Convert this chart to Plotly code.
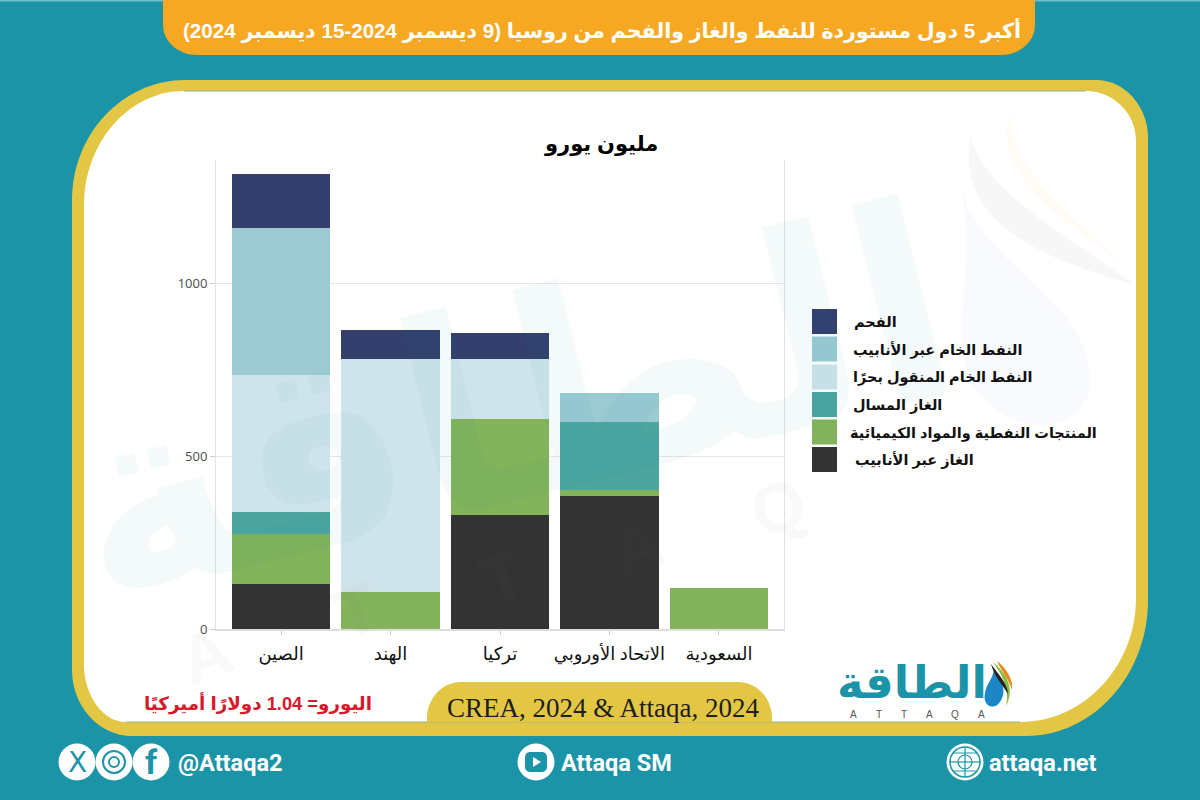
import plotly.graph_objects as go

W, H = 1200, 800
countries = ["الصين", "الهند", "تركيا", "الاتحاد الأوروبي", "السعودية"]
gas_pipeline = [130, 0, 330, 385, 0]
products = [145, 107, 279, 18, 119]
lng = [65, 0, 0, 197, 0]
seaborne_crude = [396, 674, 172, 0, 0]
pipeline_crude = [427, 0, 0, 84, 0]
coal = [154, 86, 77, 0, 0]
series_names = ["الغاز عبر الأنابيب", "المنتجات النفطية والمواد الكيميائية", "الغاز المسال",
                "النفط الخام المنقول بحرًا", "النفط الخام عبر الأنابيب", "الفحم"]
series_values = [gas_pipeline, products, lng, seaborne_crude, pipeline_crude, coal]
series_colors = ["#333333", "#83B35B", "#4CA59F", "#CFE4EA", "#9CCAD2", "#343F6D"]
y_ticks = [0, 500, 1000]

TEAL = "#1B94A8"
GOLD = "#E3C744"
ORANGE = "#F7A823"
AR = "'Liberation Sans', 'Noto Sans', 'DejaVu Sans', sans-serif"


def px(x):
    return x / W


def py(y):
    return 1 - y / H


def P(cmds):
    out = []
    for c in cmds:
        op = c[0]
        vals = c[1:]
        pts = []
        for i in range(0, len(vals), 2):
            pts.append(f"{px(vals[i]):.5f},{py(vals[i + 1]):.5f}")
        out.append(op + " ".join(pts))
    return " ".join(out) + " Z"


def corner_card(x0, y0, x1, y1, tl, tr, br, bl):
    k = 0.45
    return P([
        ("M", x0 + tl[0], y0), ("L", x1 - tr[0], y0),
        ("C", x1 - tr[0] * k, y0, x1, y0 + tr[1] * k, x1, y0 + tr[1]),
        ("L", x1, y1 - br[1]),
        ("C", x1, y1 - br[1] * k, x1 - br[0] * k, y1, x1 - br[0], y1),
        ("L", x0 + bl[0], y1),
        ("C", x0 + bl[0] * k, y1, x0, y1 - bl[1] * k, x0, y1 - bl[1]),
        ("L", x0, y0 + tl[1]),
        ("C", x0, y0 + tl[1] * k, x0 + tl[0] * k, y0, x0 + tl[0], y0),
    ])


shapes = []
annots = []


def path(d, fill, layer="below", opacity=1, line=None, lw=0):
    shapes.append(dict(type="path", path=d, xref="paper", yref="paper", fillcolor=fill, layer=layer,
                       opacity=opacity, line=dict(color=line or "rgba(0,0,0,0)", width=lw)))


def circle(cx, cy, r, fill, line=None, lw=0, layer="below", opacity=1):
    shapes.append(dict(type="circle", xref="paper", yref="paper", x0=px(cx - r), x1=px(cx + r),
                       y0=py(cy + r), y1=py(cy - r), fillcolor=fill, layer=layer, opacity=opacity,
                       line=dict(color=line or "rgba(0,0,0,0)", width=lw)))


def rect(x0, y0, x1, y1, fill, layer="below"):
    shapes.append(dict(type="rect", xref="paper", yref="paper", x0=px(x0), x1=px(x1), y0=py(y1), y1=py(y0),
                       fillcolor=fill, layer=layer, line=dict(width=0)))


def seg(x0, y0, x1, y1, color, w=1, layer="below"):
    shapes.append(dict(type="line", xref="paper", yref="paper", x0=px(x0), x1=px(x1), y0=py(y0), y1=py(y1),
                       layer=layer, line=dict(color=color, width=w)))


def text(x, y, s, size, color="#000", family=AR, anchor="center", bold=False, angle=0, opacity=1):
    annots.append(dict(x=px(x), y=py(y), xref="paper", yref="paper", text=f"<b>{s}</b>" if bold else s,
                       showarrow=False, xanchor=anchor, yanchor="middle", textangle=angle, opacity=opacity,
                       font=dict(size=size, color=color, family=family)))


# frame
rect(0, 0, 1200, 1.5, "#6FC0CC")
path(corner_card(163, -2, 1035, 55, (1, 1), (1, 1), (34, 30), (34, 30)), ORANGE)
path(corner_card(72, 80, 1148, 736, (113, 120), (52, 58), (122, 136), (60, 66)), GOLD)
path(corner_card(84, 91, 1136, 722, (100, 114), (50, 50), (116, 124), (42, 58)), "#FFFFFF")
seg(184, 91, 1086, 91, "#8FB98C", 1)
seg(126, 722, 1020, 722, "#8FB98C", 1)
path(corner_card(427, 682, 772, 722, (34, 36), (34, 36), (1, 1), (1, 1)), GOLD)

# faint drop watermark at right
path(P([("M", 970, 135), ("C", 960, 210, 1010, 250, 1135, 285), ("C", 1050, 225, 985, 190, 970, 135)]), "#8C8C8C", opacity=0.07)
path(P([("M", 1010, 112), ("C", 990, 170, 1060, 220, 1125, 265), ("C", 1060, 200, 1010, 170, 1010, 112)]), "#F7A823", opacity=0.04)
path(P([("M", 962, 190), ("C", 985, 270, 1090, 300, 1090, 380), ("C", 1090, 440, 1000, 440, 970, 380),
        ("C", 950, 330, 975, 280, 962, 190)]), "#B9C8E6", opacity=0.09)

# faint word-mark watermark
text(510, 405, "الطاقة", 270, color=TEAL, family=AR, bold=True, angle=-14, opacity=0.045)
for lx, ly, ch in [(205, 655, "A"), (356, 610, "T"), (503, 577, "T"), (636, 547, "A"), (778, 507, "Q")]:
    text(lx, ly, ch, 68, color="#777777", family="'Liberation Sans'", bold=True, angle=-20, opacity=0.04)

# titles
RLM = "\u200f"
text(602, 30, RLM + "أكبر 5 دول مستوردة للنفط والغاز والفحم من روسيا (9 ديسمبر 2024-15 ديسمبر 2024)" + RLM, 20.6, "#FFFFFF", bold=True)
text(601, 144, "مليون يورو", 21, "#000", bold=True)
text(258, 703, "اليورو= 1.04 دولارًا أميركيًا", 18.3, "#D7182A", bold=True)
text(603, 708, "CREA, 2024 &amp; Attaqa, 2024", 27, "#1E1E1E", family="'Liberation Serif', serif")

# legend
legend_rows = [(5, 321.5, 852), (4, 349, 851), (3, 377, 851), (2, 404.5, 851), (1, 432, 848), (0, 459.5, 853)]
for idx, cy, tx in legend_rows:
    rect(812, cy - 12.5, 837, cy + 12.5, series_colors[idx])
    text(tx, cy + (1 if idx else 0), series_names[idx], 14.5, "#111", bold=True, anchor="left")

# logo
text(912, 682, "الطاقة", 45, TEAL, bold=True)
for i, ch in enumerate("ATTAQA"):
    text(853 + i * 25.6, 714, ch, 10, "#555", family="'Liberation Sans'")
path(P([("M", 994, 670), ("C", 1003, 682, 1007, 692, 1000, 702), ("C", 994, 711, 982, 706, 985, 693), ("C", 986, 685, 992, 680, 994, 670)]), "#1C86C6")
path(P([("M", 993, 662), ("C", 1005, 672, 1016, 688, 1006, 706), ("C", 1010, 688, 1002, 675, 993, 662)]), "#8DBF3F")
path(P([("M", 997, 661), ("C", 1006, 668, 1014, 680, 1012, 690), ("C", 1009, 680, 1002, 672, 997, 661)]), "#E88B1F")
path(P([("M", 991, 664), ("C", 998, 674, 1008, 684, 1008, 694), ("C", 1002, 684, 994, 676, 991, 664)]), "#222222")

# footer
for cx in (77, 114, 151, 536, 965):
    circle(cx, 762, 18.5, "#FFFFFF")
text(77, 762, "X", 28, TEAL, family="'DejaVu Sans'")
circle(114, 762, 11, "rgba(0,0,0,0)", TEAL, 2)
circle(114, 762, 5, "rgba(0,0,0,0)", TEAL, 2)
text(151, 762, "f", 34, TEAL, family="'Roboto'", bold=True)
path(corner_card(525, 752, 547, 772, (5, 5), (5, 5), (5, 5), (5, 5)), TEAL)
path(P([("M", 533, 757), ("L", 541, 762), ("L", 533, 767)]), "#FFFFFF")
circle(965, 762, 15, "rgba(0,0,0,0)", TEAL, 1.5)
circle(965, 762, 7, "rgba(0,0,0,0)", TEAL, 1.2)
seg(950, 762, 980, 762, TEAL, 1.2)
seg(965, 747, 965, 777, TEAL, 1.2)
seg(953, 753, 977, 753, TEAL, 1)
seg(953, 771, 977, 771, TEAL, 1)
text(176, 763, "@Attaqa2", 23.5, "#FFFFFF", family="Roboto", bold=True, anchor="left")
text(559, 763, "Attaqa SM", 23.5, "#FFFFFF", family="Roboto", bold=True, anchor="left")
text(987, 763, "attaqa.net", 23.5, "#FFFFFF", family="Roboto", bold=True, anchor="left")

fig = go.Figure()
for name, vals, col in zip(series_names, series_values, series_colors):
    fig.add_bar(x=countries, y=vals, name=name, marker=dict(color=col, line=dict(width=0)), showlegend=False)

fig.update_layout(
    width=W, height=H, autosize=False, margin=dict(l=0, r=0, t=0, b=0, pad=0, autoexpand=False), barmode="stack", bargap=0.1,
    paper_bgcolor=TEAL, plot_bgcolor="rgba(0,0,0,0)", shapes=shapes, annotations=annots,
    showlegend=False,
    xaxis=dict(domain=[px(216), px(784)], range=[-0.594, 4.594], type="category", categoryorder="array",
               categoryarray=countries, showgrid=False, showline=True, linecolor="#DEDEDE", linewidth=1.5,
               ticks="outside", ticklen=4, tickcolor="#CCCCCC", tickwidth=1, ticklabelstandoff=4,
               tickfont=dict(size=18, color="#111", family="'Liberation Serif', " + AR)),
    yaxis=dict(domain=[py(629), py(160)], range=[0, 1359], tickvals=y_ticks, showgrid=True, gridcolor="#E6E6E6",
               gridwidth=1, showline=True, mirror=True, linecolor="#E0E0E0", linewidth=1, zeroline=False,
               ticks="outside", ticklen=5, tickcolor="#CCCCCC",
               tickfont=dict(size=13, color="#4D4D4D", family="'Open Sans', sans-serif")),
)
fig.write_html("out.html", config=dict(displayModeBar=False, responsive=False),
               post_script="document.body.style.margin='0';document.body.style.overflow='hidden';")
